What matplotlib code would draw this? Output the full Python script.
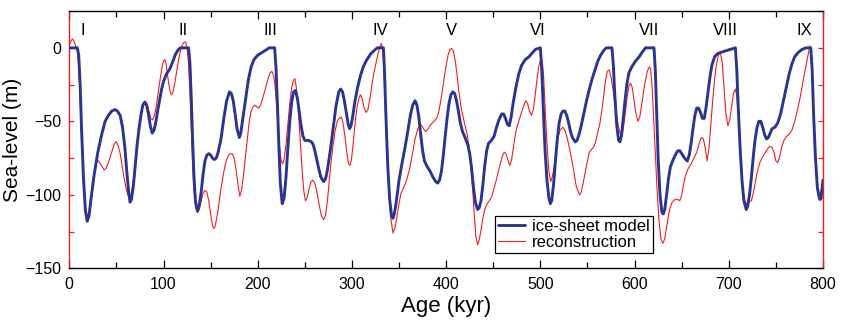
import matplotlib
matplotlib.use("Agg")
import matplotlib.pyplot as plt
from matplotlib.ticker import MultipleLocator

plt.rcParams['font.family'] = ['Liberation Sans', 'DejaVu Sans']

# ice-sheet model: (age kyr, sea level m)
model_points = [
    (0, 0), (8.5, 0), (10, -5), (11.5, -25), (13, -55), (15, -88), (17, -110), (19, -118), (21, -114),
    (23, -103), (26, -88), (30, -72), (34, -60), (38, -50), (41.5, -46), (45, -43), (48.6, -42), (51, -43),
    (54, -46), (56.5, -54), (59, -68), (61, -84), (63, -98), (64.5, -105), (66, -103), (68, -94), (70, -80),
    (72, -66), (74, -55), (76, -46), (78, -39), (80, -37), (82, -39), (84, -45), (86, -53), (88, -58),
    (90, -56), (92, -50), (94, -42), (96, -35), (98, -28), (100, -23), (103, -18), (107, -14), (110, -9),
    (113, -4), (116, -1), (118, 0), (126.6, 0), (128, -10), (129.5, -35), (131, -65), (132.5, -90),
    (134, -105), (136, -111), (138, -107), (140, -98), (142, -86), (144, -77), (146, -73), (148, -72),
    (150, -73), (152, -75), (154, -76), (156, -75), (158, -71), (161, -62), (164, -48), (167, -36),
    (170, -30), (172, -31), (174, -36), (176, -45), (178, -55), (180.5, -61), (182, -58), (184, -49),
    (187, -35), (190, -22), (193, -13), (196, -8), (200, -5), (205, -3), (210, -1), (212, 0), (218, 0),
    (219.5, -15), (221, -40), (222.5, -68), (224, -92), (226, -106), (228, -102), (230, -88), (232, -68),
    (234, -50), (236, -37), (238, -30), (240, -29), (242, -34), (244, -43), (246, -53), (248, -60),
    (250, -63), (254, -63), (257, -64), (259, -66), (261, -71), (264, -80), (267, -88), (270, -91),
    (272, -89), (274, -83), (277, -70), (280, -55), (283, -40), (286, -30), (288, -28), (290, -30),
    (292, -36), (294, -44), (296, -52), (297.5, -55), (299, -53), (301, -46), (303, -37), (306, -27),
    (309, -19), (312, -13), (315, -9), (320, -4), (325, -1), (327, 0), (333.4, 0), (334.5, -15),
    (336, -45), (338, -80), (340, -103), (342, -114), (343.5, -116), (345, -113), (347, -105), (350, -90),
    (353, -79), (356, -69), (359, -58), (362, -46), (364.5, -39), (367, -36), (369, -39), (371, -47),
    (373, -59), (375, -70), (377, -77), (380, -81), (383, -84), (386, -88), (389, -91), (391, -92),
    (393, -90), (395, -84), (397, -73), (399, -60), (401, -48), (403, -38), (405, -32), (407, -30),
    (409, -31), (411, -36), (413, -43), (415, -51), (417.4, -57), (420, -61), (423, -66), (425, -72),
    (427, -82), (429, -95), (431, -105), (433.4, -110), (435, -109), (437, -104), (439, -93), (441, -80),
    (443, -70), (445, -65), (448, -63), (451, -60), (453, -55), (456, -49), (459, -45), (461, -45),
    (463, -48), (465, -52), (467, -53), (469, -47), (471, -38), (474, -27), (477, -18), (480, -12),
    (484, -8), (488, -6), (492, -3), (495, -1), (500, 0), (501.5, -15), (503, -40), (505, -70),
    (507, -90), (509, -102), (510.6, -106), (512, -104), (514, -93), (516, -77), (518, -62), (520, -51),
    (522, -45), (524, -43), (526, -43), (528, -46), (530, -51), (532, -57), (534, -61), (537, -64),
    (539, -63), (541, -59), (543, -54), (546, -45), (549, -36), (552, -28), (555, -21), (558, -15),
    (561, -9), (564, -5), (567, -2), (570, 0), (576, 0), (577.5, -12), (579, -32), (581, -52),
    (583, -63), (584.5, -64), (586, -60), (588, -48), (590, -35), (592, -24), (594, -17), (597, -13),
    (601, -9), (605, -6), (608, -3), (611.7, 0), (620.6, 0), (622, -15), (623.5, -45), (625, -75),
    (627, -100), (629, -112), (630.5, -113), (632, -110), (634, -100), (636, -89), (638, -81),
    (641, -76), (644, -72), (646, -70), (648, -70), (650, -72), (653, -75), (656, -77), (658, -73),
    (660, -65), (662, -55), (664, -46), (666, -41), (668, -41), (670, -44), (672, -48), (674, -48),
    (676, -40), (678, -30), (680, -20), (682, -12), (685, -6), (688, -4), (692, -3), (697, -2),
    (702, -1), (707, 0), (708.5, -15), (710, -40), (712, -68), (714, -90), (716, -104), (718.5, -110),
    (720, -108), (722, -100), (724, -88), (726, -74), (728, -62), (730, -54), (732, -50), (734, -50),
    (736, -54), (738, -59), (740, -62), (742, -61), (744, -58), (746, -55), (749, -54), (752, -51),
    (755, -45), (758, -36), (761, -27), (764, -18), (767, -11), (770, -6), (774, -3), (778, -1),
    (782, 0), (787, 0), (788.5, -15), (790, -45), (792, -75), (794, -95), (796, -102), (797.5, -103),
    (799, -96), (800, -90),
]

# reconstruction: (age kyr, sea level m)
recon_points = [
    (0, 2), (2, 5), (3.5, 6), (5, 4.5), (6.5, 2), (8.5, -2), (10, -12), (11.5, -35), (13, -62),
    (15, -92), (17, -112), (19, -118), (21, -115), (23, -105), (25, -93), (27, -82), (29, -77),
    (31, -77), (33, -79), (35, -81), (37, -83), (39, -82), (41, -79), (43, -75), (46, -69), (48, -65),
    (50, -64), (52, -67), (54, -72), (56, -80), (58, -88), (60, -95), (62, -100), (64.5, -102),
    (66, -99), (68, -90), (70, -78), (72, -66), (74, -55), (76, -46), (78, -39), (80.5, -36),
    (82.5, -38), (84.5, -43), (86.5, -48), (88.6, -49), (90.5, -46), (92.5, -39), (94.5, -30),
    (96.5, -21), (98.5, -13), (100, -9), (101.5, -8), (103, -12), (105, -22), (107, -30), (108.5, -32),
    (110, -30), (112, -24), (114, -16), (116, -8), (118, -2), (120, 2), (122, 4), (123.5, 4), (125, 0),
    (126.5, -10), (128, -30), (129.5, -55), (131, -80), (132.5, -98), (134, -108), (136, -112),
    (138, -110), (140, -104), (142, -99), (144, -97), (146, -98), (148, -104), (150, -113), (152, -121),
    (153.5, -123), (155, -121), (157, -114), (159, -105), (161, -96), (163, -88), (165, -81), (167, -76),
    (169, -73), (171, -72), (173, -72), (175, -75), (177, -83), (179, -93), (181, -101), (183, -96),
    (185, -86), (187, -74), (189, -62), (191, -50), (193, -43), (195, -40), (197, -39), (199, -40),
    (201, -41), (203, -39), (205, -35), (208, -28), (211, -21), (213, -17), (215, -16), (217, -19),
    (219, -30), (221, -48), (223, -66), (225, -77), (226.5, -79), (228, -76), (230, -66), (232, -52),
    (234, -38), (236, -27), (238, -22), (239.5, -21), (241, -27), (243, -42), (245, -62), (247, -82),
    (249, -98), (250.7, -104), (252.5, -102), (254.5, -96), (256.5, -91), (258.5, -90), (260.5, -92),
    (262.5, -97), (265, -106), (267.5, -114), (270, -117), (272, -114), (274, -104), (276, -90),
    (278, -77), (280, -66), (282, -57), (284.4, -50), (286.5, -48), (288.7, -47), (290.5, -51),
    (292.5, -60), (294.5, -71), (296.5, -79), (298, -80), (299.5, -76), (301.5, -64), (303.5, -50),
    (305.5, -40), (307.5, -34), (309, -32), (311, -35), (313, -41), (315, -44), (317, -42), (319, -35),
    (321, -26), (323, -18), (325, -12), (327, -6), (329, -1), (331, 3), (332.5, 0), (334, -15),
    (335.5, -40), (337, -68), (339, -95), (341, -115), (343.6, -126), (345.5, -123), (347.5, -116),
    (350, -106), (352, -99), (355, -95), (358, -90), (361, -83), (364, -73), (367, -62), (370, -55),
    (373, -52), (375, -54), (378, -57), (381, -55), (384, -52), (387, -50), (390, -48), (392, -44),
    (394, -37), (396, -29), (398, -20), (400, -12), (402, -5), (404, -1), (405.7, -0.5), (407.5, -2),
    (409.5, -8), (411.5, -18), (413.5, -30), (416, -41), (419, -50), (422, -58), (424, -66), (426, -78),
    (428, -95), (430, -115), (431.5, -128), (433.4, -134), (435, -131), (437, -124), (439, -116),
    (441, -110), (443.5, -106), (446, -104), (448.5, -101), (451, -95), (454, -88), (457, -80),
    (459.5, -74), (461.7, -71), (463.5, -72), (465.5, -76), (467.5, -80), (469.5, -76), (471.5, -67),
    (474, -57), (477, -50), (480, -44), (482.5, -39), (484.5, -36), (486.5, -38), (488.5, -43),
    (490.5, -46), (492.5, -42), (494.5, -32), (496.5, -21), (498.5, -12), (500.5, -8), (502, -9),
    (503.5, -20), (505, -40), (507, -65), (509, -84), (511, -91), (513, -87), (515, -79), (517, -68),
    (519, -60), (521, -56), (523.8, -54), (526, -56), (528, -60), (530.5, -67), (533, -75), (535.5, -84),
    (538, -94), (541.5, -100), (543.5, -98), (546, -90), (549, -80), (552, -71), (554.5, -69),
    (557, -67), (559, -63), (561, -57), (563, -52), (565, -44), (567, -34), (569, -23), (571, -16),
    (573, -15), (575, -20), (577, -28), (579, -37), (581, -46), (583, -54), (585, -59), (586.5, -60),
    (588, -55), (590, -45), (592, -34), (594, -26), (595.7, -24), (597.5, -27), (599.5, -36),
    (601.5, -45), (603.5, -50), (605.5, -47), (607.5, -39), (609.5, -30), (611.5, -22), (613.5, -16),
    (615.5, -13), (617, -14), (618.5, -25), (620, -45), (622, -72), (624, -98), (626, -118), (628, -130),
    (630, -133), (632, -130), (634, -122), (636, -114), (638, -108), (640, -105), (642, -103.5),
    (645, -103), (648, -104), (650, -100), (652, -93), (654, -87), (657, -82), (660, -79), (663, -75),
    (666, -71), (669, -64), (671, -61), (673, -62), (675, -68), (677, -77), (679, -68), (681, -52),
    (683, -35), (685, -21), (687, -11), (689, -5), (691, -3), (693, -10), (695, -28), (697, -45),
    (699, -53), (701, -49), (703, -40), (705, -31), (707, -28), (708.5, -33), (710, -46), (712, -68),
    (714, -90), (716, -103), (718.8, -106), (721, -105), (724, -104), (726, -99), (728, -92), (730, -85),
    (733, -78), (736, -74), (739, -71), (742, -68), (744, -67), (746, -68), (748, -71), (750, -77),
    (752, -78), (754, -74), (756, -68), (758.5, -63), (761.5, -60), (764, -59), (767, -56), (770, -50),
    (773, -42), (776, -33), (779, -22), (782, -12), (784.5, -4), (786, 1.4), (787.5, -5), (789, -25),
    (790.5, -50), (792, -75), (794, -95), (796, -104), (798, -103), (800, -102),
]

numeral_labels = ['I', 'II', 'III', 'IV', 'V', 'VI', 'VII', 'VIII', 'IX']
numeral_age = [14.5, 121, 213, 330.5, 406, 497.5, 615, 696, 780.5]

model_age = [p[0] for p in model_points]
model_sl = [p[1] for p in model_points]
rec_age = [p[0] for p in recon_points]
rec_sl = [p[1] for p in recon_points]

BLUE = '#2b3590'
RED = '#f01e23'

fig = plt.figure(figsize=(8.41, 3.26), dpi=100)
ax = fig.add_axes([0.0824, 0.177, 0.8962, 0.789])

ax.plot(model_age, model_sl, color=BLUE, lw=2.1, label='ice-sheet model', zorder=3,
        solid_joinstyle='round', solid_capstyle='round')
ax.plot(rec_age, rec_sl, color=RED, lw=0.8, label='reconstruction', zorder=2,
        solid_joinstyle='round')

ax.set_xlim(0, 800)
ax.set_ylim(-150, 25)
ax.xaxis.set_major_locator(MultipleLocator(100))
ax.xaxis.set_minor_locator(MultipleLocator(50))
ax.yaxis.set_major_locator(MultipleLocator(50))
ax.yaxis.set_minor_locator(MultipleLocator(25))

ax.tick_params(axis='x', which='both', direction='in', top=True, bottom=True,
               colors='black', labelsize=11.5, pad=6)
ax.tick_params(axis='x', which='major', length=6, width=0.9)
ax.tick_params(axis='x', which='minor', length=4, width=0.9)
ax.tick_params(axis='y', which='both', direction='in', left=True, right=True,
               color=RED, labelcolor='black', labelsize=11.5, length=3.5, width=0.9, pad=6)

for s in ['left', 'right']:
    ax.spines[s].set_color(RED)
    ax.spines[s].set_linewidth(1.0)
for s in ['top', 'bottom']:
    ax.spines[s].set_color('black')
    ax.spines[s].set_linewidth(1.0)

ax.set_xlabel('Age (kyr)', fontsize=16, labelpad=3)
ax.set_ylabel('Sea-level (m)', fontsize=15, labelpad=2)

for lab, a in zip(numeral_labels, numeral_age):
    ax.text(a, 11.5, lab, fontsize=12, ha='center', va='center')

leg = ax.legend(loc='lower right', bbox_to_anchor=(0.774, 0.058), fontsize=12,
                frameon=True, fancybox=False, edgecolor='black', framealpha=1,
                handlelength=1.6, handletextpad=0.4, labelspacing=0.05,
                borderpad=0.2, borderaxespad=0.0)
leg.get_frame().set_linewidth(0.9)

fig.savefig('out.png', dpi=100)
